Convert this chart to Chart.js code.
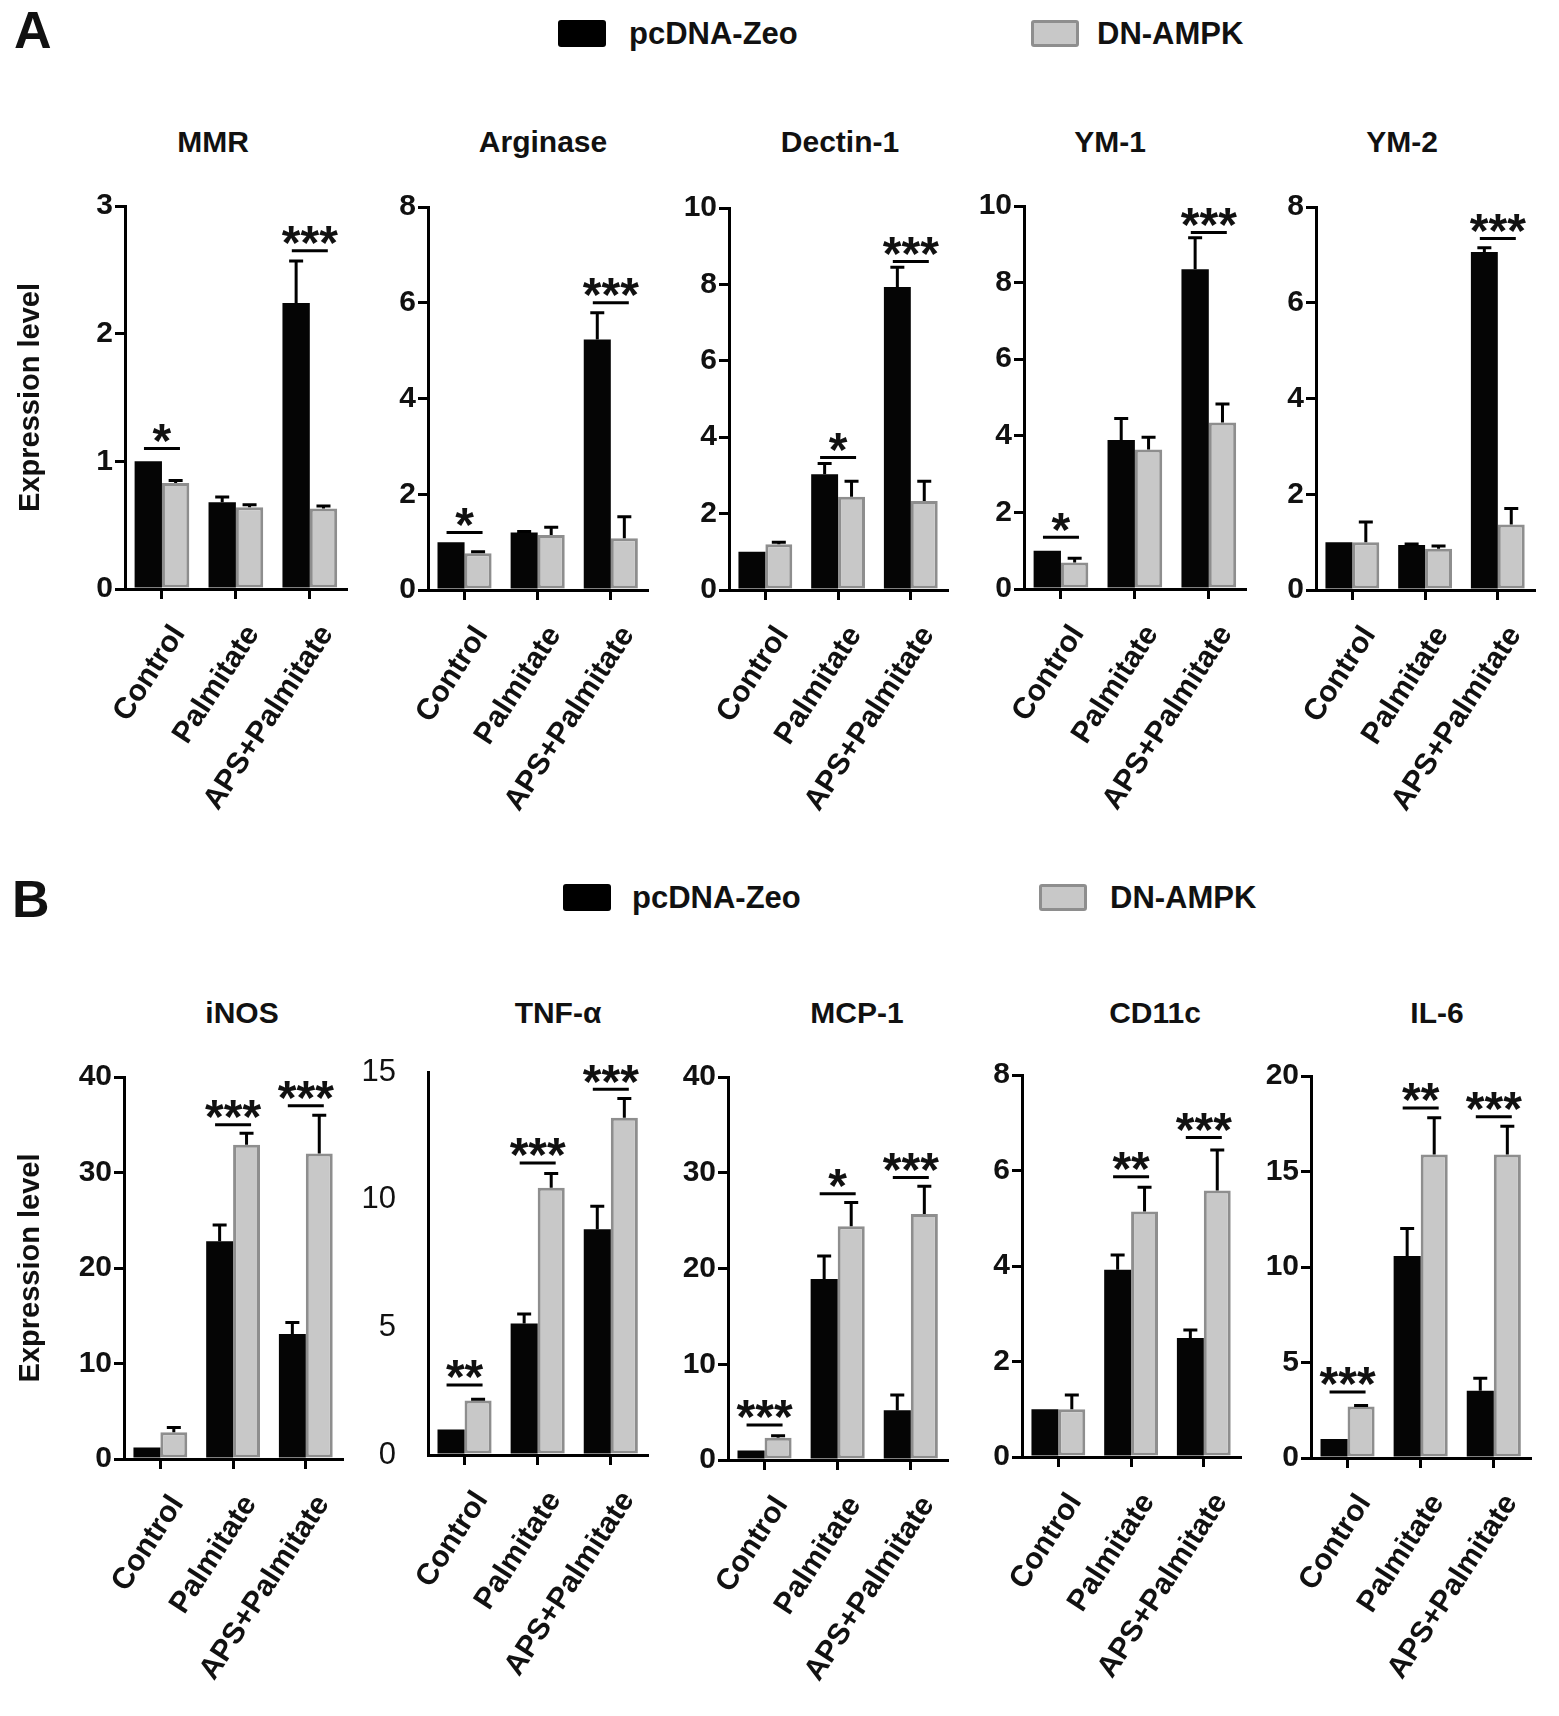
<!DOCTYPE html>
<html><head><meta charset="utf-8">
<script src="https://cdn.jsdelivr.net/npm/chart.js@4.4.1/dist/chart.umd.min.js"></script>
<style>
body{margin:0;background:#fff;width:1559px;height:1716px;position:relative;overflow:hidden;font-family:'Liberation Sans',Arial,sans-serif;color:#111}
.ttl{position:absolute;font-weight:bold;font-size:30px;line-height:30px;white-space:nowrap;transform:translateX(-50%)}
.letter{position:absolute;font-weight:bold;font-size:52px;line-height:52px}
.lbox{position:absolute;width:48px;height:27px;border-radius:3px;box-sizing:border-box}
.ltxt{position:absolute;font-weight:bold;font-size:31px;line-height:31px;white-space:nowrap}
canvas{position:absolute}
</style></head><body>
<script>
// ---------- data ----------
const categories = ['Control', 'Palmitate', 'APS+Palmitate'];
const seriesNames = ['pcDNA-Zeo', 'DN-AMPK'];
const yLabel = 'Expression level';

// Panel A
const mmrZeo = [1.0, 0.68, 2.24],   mmrZeoErr = [0, 0.04, 0.33];
const mmrDn  = [0.83, 0.64, 0.63],  mmrDnErr  = [0.02, 0.02, 0.02];
const mmrSigY = [1.10, null, 2.65], mmrSig = ['*', '', '***'];

const argZeo = [1.0, 1.2, 5.23],    argZeoErr = [0, 0.02, 0.56];
const argDn  = [0.77, 1.15, 1.08],  argDnErr  = [0.03, 0.16, 0.45];
const argSigY = [1.2, null, 6.0],   argSig = ['*', '', '***'];

const decZeo = [1.0, 3.03, 7.93],   decZeoErr = [0, 0.28, 0.52];
const decDn  = [1.2, 2.44, 2.33],   decDnErr  = [0.05, 0.41, 0.52];
const decSigY = [null, 3.47, 8.6],  decSig = ['', '*', '***'];

const ym1Zeo = [1.0, 3.89, 8.35],   ym1ZeoErr = [0, 0.56, 0.82];
const ym1Dn  = [0.69, 3.64, 4.35],  ym1DnErr  = [0.11, 0.32, 0.48];
const ym1SigY = [1.35, null, 9.31], ym1Sig = ['*', '', '***'];

const ym2Zeo = [1.0, 0.94, 7.06],   ym2ZeoErr = [0, 0.02, 0.09];
const ym2Dn  = [1.0, 0.86, 1.37],   ym2DnErr  = [0.42, 0.06, 0.33];
const ym2SigY = [null, null, 7.34], ym2Sig = ['', '', '***'];

// Panel B
const inosZeo = [1.2, 22.8, 13.1],  inosZeoErr = [0, 1.7, 1.2];
const inosDn  = [2.8, 32.9, 32.0],  inosDnErr  = [0.5, 1.2, 4.0];
const inosSigY = [null, 35.0, 37.0], inosSig = ['', '***', '***'];

const tnfZeo = [1.0, 5.15, 8.84],   tnfZeoErr = [0, 0.37, 0.9];
const tnfDn  = [2.13, 10.47, 13.21], tnfDnErr = [0.05, 0.55, 0.75];
const tnfSigY = [2.74, 11.44, 14.32], tnfSig = ['**', '***', '***'];

const mcpZeo = [1.0, 18.9, 5.2],    mcpZeoErr = [0, 2.4, 1.6];
const mcpDn  = [2.33, 24.4, 25.7],  mcpDnErr  = [0.2, 2.5, 2.9];
const mcpSigY = [3.66, 27.8, 29.5], mcpSig = ['***', '*', '***'];

const cdZeo = [1.0, 3.92, 2.49],    cdZeoErr = [0, 0.31, 0.17];
const cdDn  = [1.0, 5.14, 5.58],    cdDnErr  = [0.3, 0.51, 0.85];
const cdSigY = [null, 5.87, 6.69],  cdSig = ['', '**', '***'];

const il6Zeo = [1.0, 10.57, 3.52],  il6ZeoErr = [0, 1.45, 0.66];
const il6Dn  = [2.7, 15.89, 15.89], il6DnErr  = [0.05, 1.93, 1.48];
const il6SigY = [3.45, 18.33, 17.86], il6Sig = ['***', '**', '***'];

// axis ranges
const yMax  = {MMR:3, Arginase:8, 'Dectin-1':10, 'YM-1':10, 'YM-2':8, iNOS:40, 'TNF-α':15, 'MCP-1':40, CD11c:8, 'IL-6':20};
const yStep = {MMR:1, Arginase:2, 'Dectin-1':2, 'YM-1':2, 'YM-2':2, iNOS:10, 'TNF-α':5, 'MCP-1':10, CD11c:2, 'IL-6':5};

// ---------- layout (positions only) ----------
const panels = [
  {name:'MMR',      zeo:mmrZeo, zeoErr:mmrZeoErr, dn:mmrDn, dnErr:mmrDnErr, sigY:mmrSigY, sig:mmrSig, L:125, T:206, B:589, sp:76.5, tx:213, ty:142, first:true},
  {name:'Arginase', zeo:argZeo, zeoErr:argZeoErr, dn:argDn, dnErr:argDnErr, sigY:argSigY, sig:argSig, L:428, T:207, B:590, sp:76, tx:543, ty:142},
  {name:'Dectin-1', zeo:decZeo, zeoErr:decZeoErr, dn:decDn, dnErr:decDnErr, sigY:decSigY, sig:decSig, L:729, T:208, B:590, sp:75.5, tx:840, ty:142},
  {name:'YM-1',     zeo:ym1Zeo, zeoErr:ym1ZeoErr, dn:ym1Dn, dnErr:ym1DnErr, sigY:ym1SigY, sig:ym1Sig, L:1024, T:206, B:589, sp:76.5, tx:1110, ty:142},
  {name:'YM-2',     zeo:ym2Zeo, zeoErr:ym2ZeoErr, dn:ym2Dn, dnErr:ym2DnErr, sigY:ym2SigY, sig:ym2Sig, L:1316, T:207, B:590, sp:75.5, tx:1402, ty:142},
  {name:'iNOS',     zeo:inosZeo, zeoErr:inosZeoErr, dn:inosDn, dnErr:inosDnErr, sigY:inosSigY, sig:inosSig, L:124, T:1077, B:1459, sp:75.5, tx:242, ty:1013, first:true},
  {name:'TNF-α',    zeo:tnfZeo, zeoErr:tnfZeoErr, dn:tnfDn, dnErr:tnfDnErr, sigY:tnfSigY, sig:tnfSig, L:428, T:1072, B:1455, sp:76, tx:558, ty:1013, plainTicks:true},
  {name:'MCP-1',    zeo:mcpZeo, zeoErr:mcpZeoErr, dn:mcpDn, dnErr:mcpDnErr, sigY:mcpSigY, sig:mcpSig, L:728, T:1077, B:1460, sp:76, tx:857, ty:1013},
  {name:'CD11c',    zeo:cdZeo, zeoErr:cdZeoErr, dn:cdDn, dnErr:cdDnErr, sigY:cdSigY, sig:cdSig, L:1022, T:1075, B:1457, sp:75.5, tx:1155, ty:1013},
  {name:'IL-6',     zeo:il6Zeo, zeoErr:il6ZeoErr, dn:il6Dn, dnErr:il6DnErr, sigY:il6SigY, sig:il6Sig, L:1311, T:1076, B:1458, sp:76, tx:1437, ty:1013},
];

const FONT = "'Liberation Sans', Arial, sans-serif";
Chart.defaults.font.family = FONT;
Chart.defaults.color = '#111';

function el(tag, cls, css, text) {
  const d = document.createElement(tag);
  if (cls) d.className = cls;
  Object.assign(d.style, css || {});
  if (text != null) d.textContent = text;
  document.body.appendChild(d);
  return d;
}

// Panel letters and legends
el('div', 'letter', {left:'14px', top:'4px'}, 'A');
el('div', 'letter', {left:'12px', top:'873px'}, 'B');
function legend(top, x1, t1, x2, t2) {
  el('div', 'lbox', {left:x1+'px', top:top+'px', background:'#000'});
  el('div', 'ltxt', {left:t1+'px', top:(top-2)+'px'}, seriesNames[0]);
  el('div', 'lbox', {left:x2+'px', top:top+'px', background:'#c8c8c8', border:'3px solid #8e8e8e'});
  el('div', 'ltxt', {left:t2+'px', top:(top-2)+'px'}, seriesNames[1]);
}
legend(20, 558, 629, 1031, 1097);
legend(884, 563, 632, 1039, 1110);

const SIG_FS = 48;
function overlay(p) {
  return {
    id: 'overlay',
    afterDatasetsDraw(chart) {
      const ctx = chart.ctx, ys = chart.scales.y, xs = chart.scales.x;
      ctx.save();
      ctx.strokeStyle = '#000';
      ctx.lineWidth = 3;
      chart.data.datasets.forEach((ds, i) => {
        chart.getDatasetMeta(i).data.forEach((bar, j) => {
          const e = ds.err[j];
          if (!e) return;
          const y0 = ys.getPixelForValue(ds.data[j]);
          const yt = ys.getPixelForValue(ds.data[j] + e);
          ctx.beginPath();
          ctx.moveTo(bar.x, y0); ctx.lineTo(bar.x, yt);
          ctx.moveTo(bar.x - 7, yt); ctx.lineTo(bar.x + 7, yt);
          ctx.stroke();
        });
      });
      ctx.fillStyle = '#111';
      ctx.font = 'bold ' + SIG_FS + 'px ' + FONT;
      ctx.textAlign = 'center';
      ctx.textBaseline = 'alphabetic';
      p.sigY.forEach((v, j) => {
        if (v == null) return;
        const cx = xs.getPixelForValue(j);
        const y = ys.getPixelForValue(v);
        ctx.beginPath(); ctx.moveTo(cx - 18, y); ctx.lineTo(cx + 18, y); ctx.stroke();
        ctx.fillText(p.sig[j], cx, y + 0.57 * SIG_FS - 19);
      });
      ctx.restore();
    }
  };
}

panels.forEach(p => {
  el('div', 'ttl', {left:p.tx+'px', top:(p.ty-15)+'px'}, p.name);
  const padL = p.first ? 14 : 0;
  const yw = p.first ? p.L - padL : 80;
  const cLeft = p.L - yw - padL;
  const padT = 60, padR = 6, xh = 240;
  const cTop = p.T - padT;
  const R = p.L + 3 * p.sp;
  const W = Math.round(R + padR - cLeft);
  const H = Math.round(p.B + xh - cTop);
  const cv = document.createElement('canvas');
  cv.width = W; cv.height = H;
  Object.assign(cv.style, {left:cLeft+'px', top:cTop+'px', width:W+'px', height:H+'px'});
  document.body.appendChild(cv);
  new Chart(cv, {
    type: 'bar',
    data: {
      labels: categories,
      datasets: [
        {label: seriesNames[0], data: p.zeo, err: p.zeoErr, backgroundColor:'#050505', borderWidth:0},
        {label: seriesNames[1], data: p.dn, err: p.dnErr, backgroundColor:'#c8c8c8', borderColor:'#8e8e8e', borderWidth:3, borderSkipped:false}
      ]
    },
    options: {
      responsive: false, animation: false, devicePixelRatio: 1,
      categoryPercentage: 0.74, barPercentage: 1.0,
      layout: {padding: {left: padL, top: padT, right: padR, bottom: 0}},
      plugins: {legend: {display:false}, tooltip: {enabled:false}},
      scales: {
        x: {
          offset: true,
          grid: {display:true, offset:false, drawOnChartArea:false, drawTicks:true, tickLength:10, tickWidth:3, tickColor:'#000', lineWidth:3},
          border: {display:true, color:'#000', width:3},
          ticks: {autoSkip:false, minRotation:57, maxRotation:57, color:'#111', padding:20, labelOffset:17,
                  font:{size:30, weight:'bold'}},
          afterFit: s => { s.height = xh; }
        },
        y: {
          min: 0, max: yMax[p.name],
          grid: {display:true, drawOnChartArea:false, drawTicks:true, tickLength: p.plainTicks ? 0 : 10, tickWidth:3,
                 tickColor: p.plainTicks ? 'rgba(0,0,0,0)' : '#000', lineWidth:3},
          border: {display:true, color:'#000', width:3},
          ticks: {stepSize: yStep[p.name], color:'#111', padding: p.plainTicks ? 32 : 2,
                  font:{size: p.plainTicks ? 31 : 30, weight: p.plainTicks ? 'normal' : 'bold'}},
          title: p.first ? {display:true, text:yLabel, color:'#111', padding:{top:0, bottom:0},
                  font:{size:29, weight:'bold'}} : {display:false},
          afterFit: s => { s.width = yw; }
        }
      }
    },
    plugins: [overlay(p)]
  });
});
</script>
</body></html>
